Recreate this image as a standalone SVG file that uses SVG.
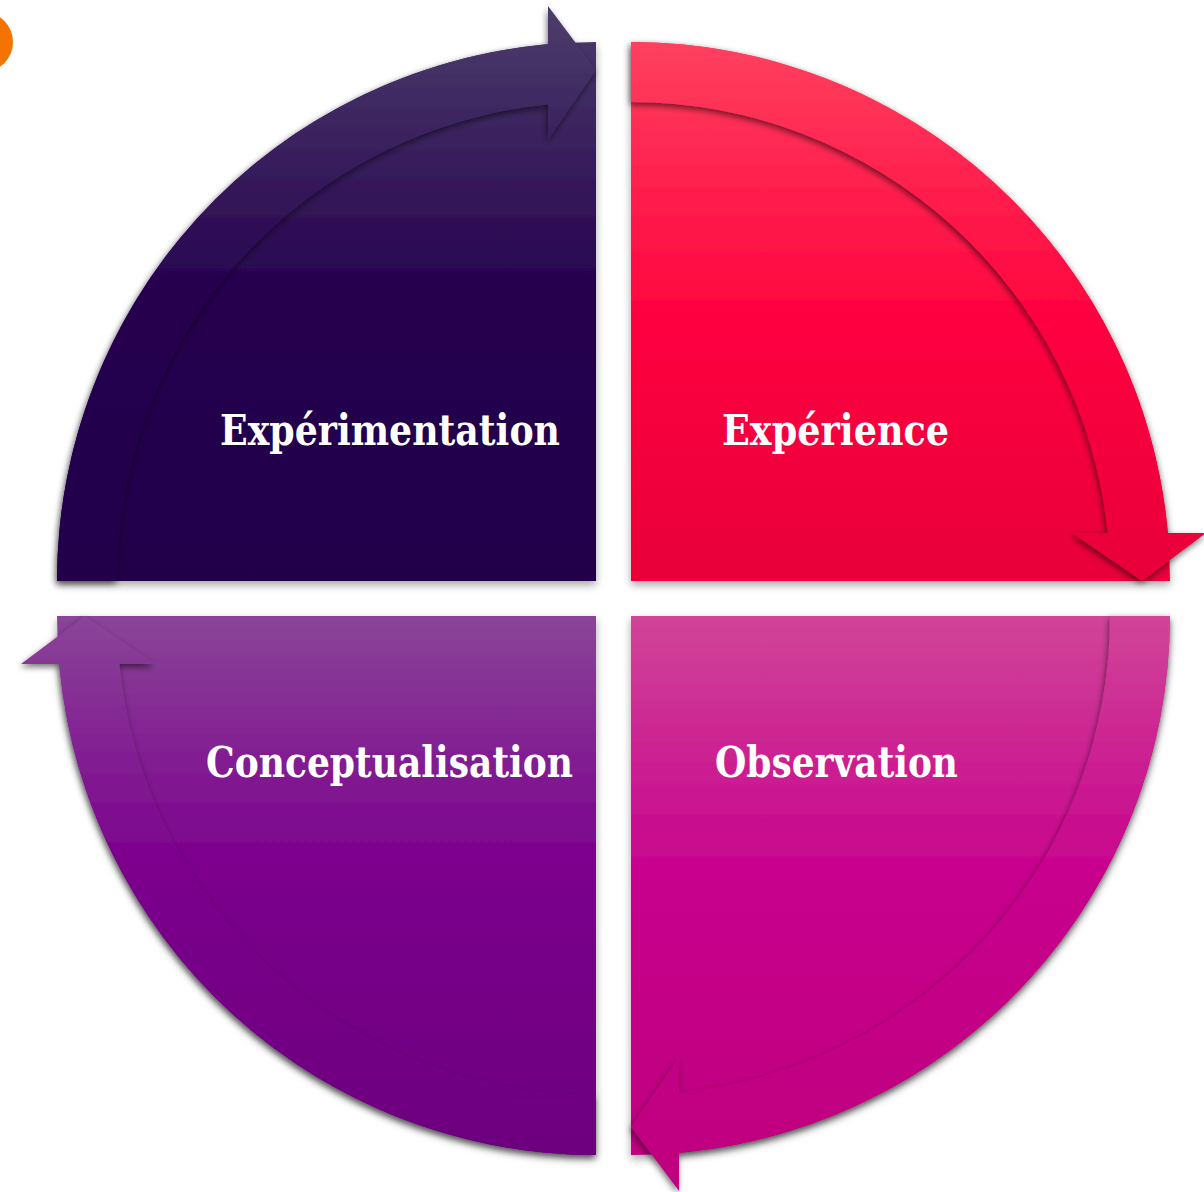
<svg xmlns="http://www.w3.org/2000/svg" width="1204" height="1192" viewBox="0 0 1204 1192">
<style>
.lbl{font-family:"DejaVu Serif","Liberation Serif",serif;font-weight:bold;font-size:42px;fill:#ffffff}
</style>
<defs>
<linearGradient id="gTL" gradientUnits="userSpaceOnUse" x1="0" y1="0" x2="0" y2="581">
<stop offset="0" stop-color="#4d3f6c"/><stop offset="0.5" stop-color="#26024f"/><stop offset="1" stop-color="#21004a"/>
</linearGradient>
<linearGradient id="gTR" gradientUnits="userSpaceOnUse" x1="0" y1="42" x2="0" y2="581">
<stop offset="0" stop-color="#ff405f"/><stop offset="0.5" stop-color="#ff0440"/><stop offset="1" stop-color="#e8003a"/>
</linearGradient>
<linearGradient id="gBR" gradientUnits="userSpaceOnUse" x1="0" y1="616" x2="0" y2="1191">
<stop offset="0" stop-color="#d04598"/><stop offset="0.45" stop-color="#c8028d"/><stop offset="1" stop-color="#bf007e"/>
</linearGradient>
<linearGradient id="gBL" gradientUnits="userSpaceOnUse" x1="0" y1="616" x2="0" y2="1155">
<stop offset="0" stop-color="#8a4598"/><stop offset="0.45" stop-color="#7c028d"/><stop offset="1" stop-color="#6d007f"/>
</linearGradient>
<filter id="sh" x="-10%" y="-10%" width="120%" height="120%">
<feDropShadow dx="0" dy="4" stdDeviation="4" flood-color="#000" flood-opacity="0.35"/>
</filter>
<filter id="sh2" x="-10%" y="-10%" width="120%" height="120%">
<feDropShadow dx="-1" dy="3" stdDeviation="3" flood-color="#000" flood-opacity="0.55"/>
</filter>
</defs>
<circle cx="-17" cy="42" r="30" fill="#f57300"/>
<g id="experimentation">
<path filter="url(#sh)" fill="url(#gTL)" d="M596,581 L57,581 A539,539 0 0 1 596,42 Z"/>
<path filter="url(#sh2)" fill="url(#gTL)" d="M57,581 A539,539 0 0 1 548,44.14 L548,6 L596,70 L548,140 L548,104.41 A479,479 0 0 0 117,581 Z"/>
<text class="lbl" x="220" y="445" textLength="340" lengthAdjust="spacingAndGlyphs">Expérimentation</text>
</g>
<g id="experience">
<path filter="url(#sh)" fill="url(#gTR)" d="M631,581 L631,42 A539,539 0 0 1 1170,581 Z"/>
<path filter="url(#sh2)" fill="url(#gTR)" d="M631,42 A539,539 0 0 1 1167.86,533 L1206,533 L1142,581 L1072,533 L1107.59,533 A479,479 0 0 0 631,102 Z"/>
<text class="lbl" x="722" y="445" textLength="227" lengthAdjust="spacingAndGlyphs">Expérience</text>
</g>
<g id="observation">
<path filter="url(#sh)" fill="url(#gBR)" d="M631,616 L1170,616 A539,539 0 0 1 631,1155 Z"/>
<path filter="url(#sh2)" fill="url(#gBR)" d="M1170,616 A539,539 0 0 1 679,1152.86 L679,1191 L631,1127 L679,1057 L679,1092.59 A479,479 0 0 0 1110,616 Z"/>
<text class="lbl" x="715" y="777" textLength="243" lengthAdjust="spacingAndGlyphs">Observation</text>
</g>
<g id="conceptualisation">
<path filter="url(#sh)" fill="url(#gBL)" d="M596,616 L596,1155 A539,539 0 0 1 57,616 Z"/>
<path filter="url(#sh2)" fill="url(#gBL)" d="M596,1155 A539,539 0 0 1 59.14,664 L21,664 L85,616 L155,664 L119.41,664 A479,479 0 0 0 596,1095 Z"/>
<text class="lbl" x="206" y="777" textLength="367" lengthAdjust="spacingAndGlyphs">Conceptualisation</text>
</g>
<g id="connectors"></g>
</svg>
